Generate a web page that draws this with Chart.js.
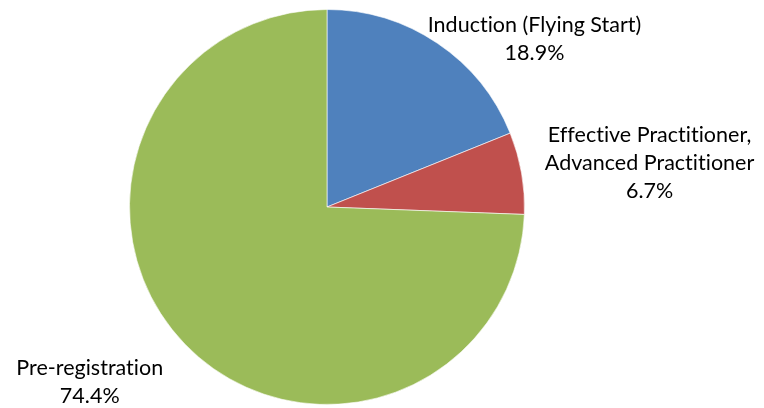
<!DOCTYPE html>
<html>
<head>
<meta charset="utf-8">
<script src="https://cdn.jsdelivr.net/npm/chart.js@4/dist/chart.umd.min.js"></script>
<style>
  html, body { margin: 0; padding: 0; background: #fff; }
  #wrap { width: 764px; height: 408px; position: relative; }
</style>
</head>
<body>
<div id="wrap"><canvas id="pieChart"></canvas></div>
<script>
const categories = ['Induction (Flying Start)', 'Effective Practitioner,\nAdvanced Practitioner', 'Pre-registration'];
const shares = [18.9, 6.7, 74.4];
const sliceColors = ['#4F81BD', '#C0504D', '#9BBB59'];
// label block offset from the slice's outer mid point
const labelOffsets = [[97, -4], [128, -10], [-95, 38]];

const sliceLabels = {
    id: 'sliceLabels',
    afterDatasetsDraw(chart) {
        const ctx = chart.ctx;
        const arcs = chart.getDatasetMeta(0).data;
        ctx.save();
        ctx.font = '21.5px Lato, "Open Sans", sans-serif';
        if ('letterSpacing' in ctx) ctx.letterSpacing = '0.01px'; // no "ti" ligature
        ctx.fillStyle = '#000';
        ctx.textAlign = 'center';
        ctx.textBaseline = 'middle';
        arcs.forEach((arc, i) => {
            const mid = (arc.startAngle + arc.endAngle) / 2;
            const px = arc.x + Math.cos(mid) * arc.outerRadius;
            const py = arc.y + Math.sin(mid) * arc.outerRadius;
            const lines = categories[i].split('\n').concat(shares[i].toFixed(1) + '%');
            const lh = 28;
            const cx = px + labelOffsets[i][0];
            const cy = py + labelOffsets[i][1];
            const top = cy - (lines.length - 1) * lh / 2;
            lines.forEach((t, j) => ctx.fillText(t, cx, top + j * lh));
        });
        ctx.restore();
    }
};

document.addEventListener('DOMContentLoaded', () => {
    new Chart(document.getElementById('pieChart'), {
        type: 'pie',
        data: {
            labels: categories,
            datasets: [{
                data: shares,
                backgroundColor: sliceColors,
                borderColor: 'rgba(255,255,255,0.6)',
                borderWidth: 1
            }]
        },
        options: {
            responsive: true,
            maintainAspectRatio: false,
            animation: false,
            layout: { padding: { left: 129, right: 239, top: 9, bottom: 3 } },
            plugins: { legend: { display: false }, tooltip: { enabled: false } }
        },
        plugins: [sliceLabels]
    });
});
</script>
</body>
</html>
